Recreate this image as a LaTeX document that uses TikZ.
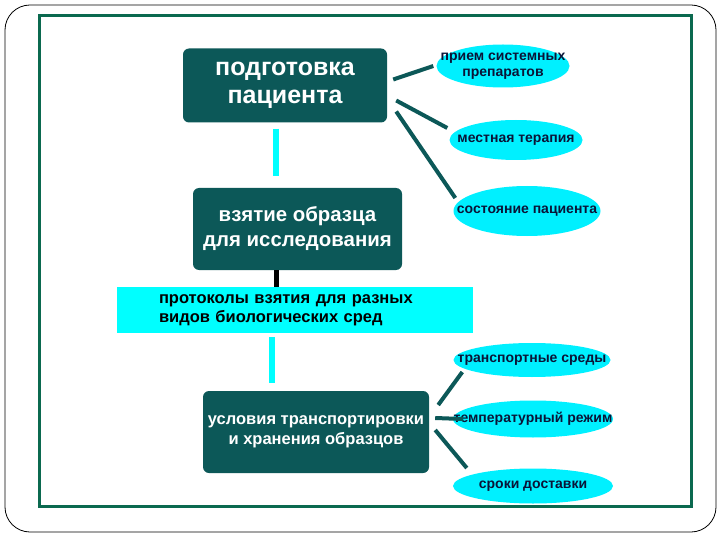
\documentclass[tikz,border=0pt]{standalone}
\usepackage{fontspec}
\setmainfont{Liberation Sans}
\usetikzlibrary{shapes.geometric}
\definecolor{boxteal}{RGB}{12,88,88}
\definecolor{barcyan}{RGB}{0,255,255}
\definecolor{ovalcyan}{RGB}{0,240,255}
\definecolor{ovaltext}{RGB}{10,20,55}
\tikzset{
  darkbox/.style={draw=none, fill=boxteal, rounded corners=6pt, text=white,
    font=\bfseries, align=center, inner sep=0pt},
  band/.style={draw=none, fill=barcyan, text=black, font=\bfseries\fontsize{16.5}{19}\selectfont,
    align=left, inner ysep=0pt, inner xsep=42pt, text width=272pt, minimum height=46pt},
  oval/.style={ellipse, fill=ovalcyan, text=ovaltext, inner xsep=-45pt, inner ysep=-10pt, align=center,
    font=\bfseries\fontsize{14}{16}\selectfont},
  branch/.style={draw=boxteal, line width=4pt},
  cbar/.style={draw=barcyan, line width=6pt},
}
\begin{document}
\begin{tikzpicture}[x=1pt,y=-1pt]
  \useasboundingbox (0,0) rectangle (720,540);
  % frames
  \draw[black, line width=0.8pt, rounded corners=25pt] (5,5) rectangle (716,532);
  \draw[boxteal!90!green, line width=3pt] (39,16) rectangle (691,506);
  % main column
  \node[darkbox, minimum width=204pt, minimum height=74pt, font=\bfseries\fontsize{25}{28}\selectfont]
    (prep) at (285,85.5) {подготовка\\пациента};
  \node[darkbox, minimum width=209pt, minimum height=82pt, font=\bfseries\fontsize{20.4}{25}\selectfont]
    (sample) at (297.5,229) {взятие образца\\для исследования};
  \node[band] (proto) at (295,310) {протоколы взятия для разных\\видов биологических сред};
  \node[darkbox, minimum width=226pt, minimum height=82pt, font=\bfseries\fontsize{16.5}{20}\selectfont]
    (trans) at (316,432) {условия транспортировки\\и хранения образцов};
  % side ovals
  \node[oval, minimum width=133pt, minimum height=43pt] (drugs) at (503,66) {прием системных\\препаратов};
  \node[oval, minimum width=133pt, minimum height=40pt] (local) at (516,140) {местная терапия};
  \node[oval, minimum width=147pt, minimum height=50pt] (state) at (527,211) {состояние пациента};
  \node[oval, minimum width=157pt, minimum height=34pt] (media) at (532,360) {транспортные среды};
  \node[oval, minimum width=160pt, minimum height=37pt] (temp) at (533,419) {температурный режим};
  \node[oval, minimum width=160pt, minimum height=35pt] (terms) at (533,486) {сроки доставки};
  % vertical links
  \draw[cbar] ([xshift=-9pt,yshift=-6pt]prep.south) -- ([xshift=-21.5pt,yshift=12pt]sample.north);
  \draw[black, line width=5pt] ([xshift=-21.5pt]sample.south) -- ([xshift=-19pt]proto.north);
  \draw[cbar] ([xshift=-23pt,yshift=-4pt]proto.south) -- ([xshift=-44pt,yshift=8pt]trans.north);
  % branches
  \draw[branch] ([xshift=6pt,yshift=6pt]prep.east) -- ([xshift=-3pt]drugs.west);
  \draw[branch] ([xshift=9pt,yshift=-15pt]prep.east) -- ([xshift=-2pt,yshift=12pt]local.west);
  \draw[branch] ([xshift=9pt,yshift=-26pt]prep.east) -- ([xshift=2pt,yshift=13pt]state.west);
  \draw[branch] ([xshift=9pt,yshift=27pt]trans.east) -- ([xshift=9pt,yshift=-12pt]media.west);
  \draw[branch] ([xshift=6pt,yshift=14pt]trans.east) -- ([xshift=10pt]temp.west);
  \draw[branch] ([xshift=6pt,yshift=2pt]trans.east) -- ([xshift=14pt,yshift=18pt]terms.west);
\end{tikzpicture}
\end{document}
